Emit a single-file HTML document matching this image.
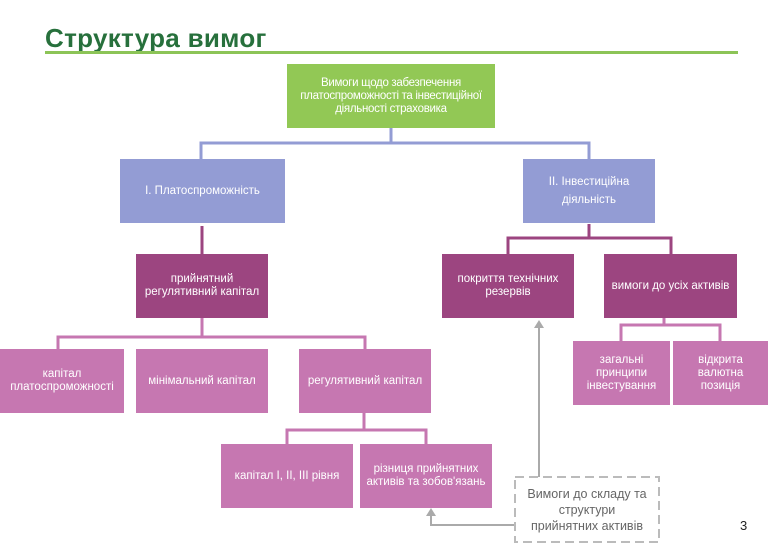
<!DOCTYPE html>
<html><head><meta charset="utf-8"><style>
body{margin:0;width:768px;height:553px;background:#fff;position:relative;overflow:hidden;font-family:"Liberation Sans",sans-serif}
.b{position:absolute;display:flex;align-items:center;justify-content:center;text-align:center;color:#fff;font-size:11.5px;line-height:13px;box-sizing:border-box;white-space:nowrap}
.g{background:#92c855}.bl{background:#939cd4}.dm{background:#9c4580}.lm{background:#c677b1}
</style></head><body>
<div style="position:absolute;left:45px;top:23px;font-size:26px;font-weight:bold;color:#27703c;letter-spacing:0.3px">Структура вимог</div>
<div style="position:absolute;left:45px;top:51px;width:693px;height:3px;background:#8cc457"></div>
<svg width="768" height="553" style="position:absolute;left:0;top:0">
<g fill="none" stroke-width="3">
<path d="M391 128V143M201 159V143H589V159" stroke="#939cd4"/>
<path d="M202 226V254M589 224V238M508 254V238H671V254" stroke="#9c4580"/>
<path d="M202 318V337M58 349V337H365V349M664 318V325M621 341V325H720V341M364 413V430M287 444V430H426V444" stroke="#c677b1"/>
</g>
<g stroke="#aaa" stroke-width="2" fill="#aaa">
<path d="M539 477V326" fill="none"/><path d="M534 328L539 320L544 328Z" stroke="none"/>
<path d="M514 525H431V514" fill="none"/><path d="M426 516L431 508L436 516Z" stroke="none"/>
</g>
<rect x="515" y="477" width="144" height="65" fill="#fff" stroke="#bbb" stroke-width="2" stroke-dasharray="9,5"/>
</svg>
<div class="b g" style="left:287px;top:64px;width:208px;height:64px;letter-spacing:-0.3px">Вимоги щодо забезпечення<br>платоспроможності та інвестиційної<br>діяльності страховика</div>
<div class="b bl" style="left:120px;top:159px;width:165px;height:64px">I. Платоспроможність</div>
<div class="b bl" style="left:523px;top:159px;width:132px;height:64px;line-height:18px">II. Інвестиційна<br>діяльність</div>
<div class="b dm" style="left:136px;top:254px;width:132px;height:64px">прийнятний<br>регулятивний капітал</div>
<div class="b dm" style="left:442px;top:254px;width:132px;height:64px">покриття технічних<br>резервів</div>
<div class="b dm" style="left:604px;top:254px;width:133px;height:64px">вимоги до усіх активів</div>
<div class="b lm" style="left:0;top:349px;width:124px;height:64px">капітал<br>платоспроможності</div>
<div class="b lm" style="left:136px;top:349px;width:132px;height:64px">мінімальний капітал</div>
<div class="b lm" style="left:299px;top:349px;width:132px;height:64px">регулятивний капітал</div>
<div class="b lm" style="left:573px;top:341px;width:97px;height:64px">загальні<br>принципи<br>інвестування</div>
<div class="b lm" style="left:673px;top:341px;width:95px;height:64px">відкрита<br>валютна<br>позиція</div>
<div class="b lm" style="left:221px;top:444px;width:132px;height:64px">капітал I, II, III рівня</div>
<div class="b lm" style="left:360px;top:444px;width:132px;height:64px">різниця прийнятних<br>активів та зобов'язань</div>
<div class="b" style="left:515px;top:477px;width:144px;height:65px;color:#666;font-size:12.5px;line-height:16px">Вимоги до складу та<br>структури<br>прийнятних активів</div>
<div style="position:absolute;left:740px;top:518px;font-size:13px;color:#222">3</div>
</body></html>
